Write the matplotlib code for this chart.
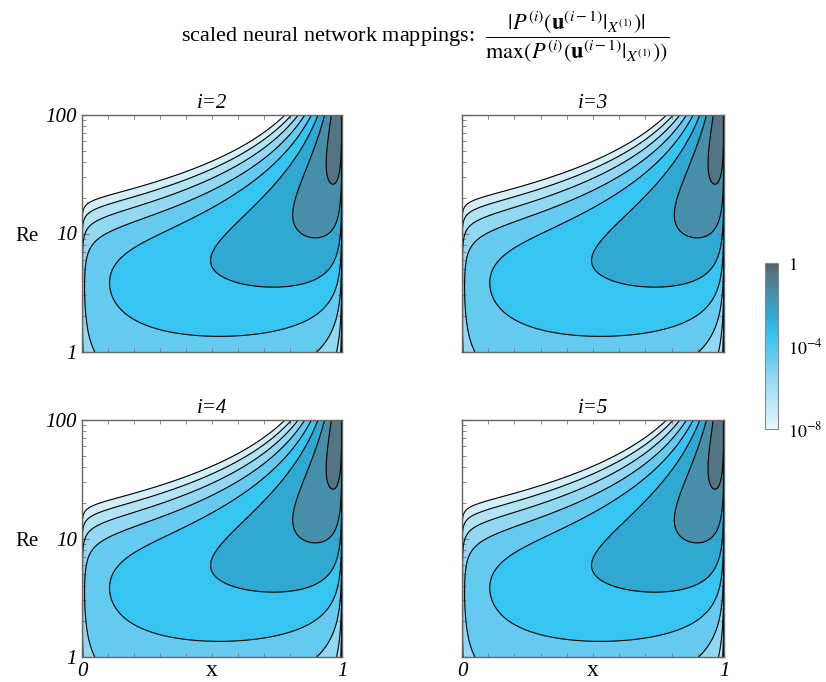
import numpy as np
import matplotlib.pyplot as plt
from matplotlib.colors import LinearSegmentedColormap, Normalize
from matplotlib.cm import ScalarMappable
from matplotlib.ticker import FixedLocator, NullFormatter

lvl_x = [0.80, 0.74, 0.62, 0.47, 0.10, 0.02,
         0.82, 0.02,
         0.837, 0.02,
         0.855, 0.02, 0.02, 0.12, 0.935,
         0.876, 0.095, 0.60, 0.90,
         0.898, 0.467, 0.80, 0.95,
         0.927, 0.827, 0.916,
         0.948, 0.975,
         0.985]
lvl_logre = [2.0, 1.90, 1.71, 1.52, 1.34, 1.27,
             2.0, 1.18,
             2.0, 1.10,
             2.0, 0.90, 0.50, 0.0, 0.0,
             2.0, 0.63, 0.20, 0.20,
             2.0, 0.77, 0.57, 0.57,
             2.0, 1.29, 1.07,
             2.0, 1.55,
             2.0]
lvl_val = [-8, -8, -8, -8, -8, -8,
           -7, -7,
           -6, -6,
           -5, -5, -5, -5, -5,
           -4, -4, -4, -4,
           -3, -3, -3, -3,
           -2, -2, -2,
           -1, -1,
           0]
# leftmost tips of the contours (vertical tangent)
nose_x = [0.095, 0.467, 0.827]
nose_logre = [0.63, 0.77, 1.29]
# lowest points of the contours (horizontal tangent)
flat_x = [0.916, 0.975, 0.60, 0.80]
flat_logre = [1.07, 1.55, 0.20, 0.57]
# the two tips near the right wall are trusted a bit more in the fit
tip_weight = 2.0

panel_titles = ['i=2', 'i=3', 'i=4', 'i=5']
levels = [-8, -7, -6, -5, -4, -3, -2, -1]
LN10 = np.log(10)


def basis(x, l):
    # smooth surface: polynomial in log10(Re) plus boundary-layer profile terms
    re = 10.0 ** np.asarray(l, float)
    x = np.asarray(x, float)
    with np.errstate(divide='ignore'):
        log_u = (-re * (1 - x) + np.log(-np.expm1(-re * x)) - np.log(-np.expm1(-re))) / LN10
        log_1mu = (np.log(-np.expm1(-re * (1 - x))) - np.log(-np.expm1(-re))) / LN10
    l = np.asarray(l, float) + 0 * x
    return [np.ones_like(l), l, l**2, l**3, log_u, log_1mu, l * log_1mu]


def fit_field():
    h = 1e-4
    rows, rhs = [], []

    def add(row, val, w=1.0):
        rows.append([w * float(c) for c in row])
        rhs.append(w * val)

    tips = list(zip(flat_x[:2], flat_logre[:2]))
    for x, l, v in zip(lvl_x, lvl_logre, lvl_val):
        add(basis(x, l), v, tip_weight if (x, l) in tips else 1.0)
    for x, l in zip(nose_x, nose_logre):
        add([(a - b) / (2 * h) for a, b in zip(basis(x, l + h), basis(x, l - h))], 0)
    for k, (x, l) in enumerate(zip(flat_x, flat_logre)):
        add([(a - b) / (2 * h) for a, b in zip(basis(x + h, l), basis(x - h, l))], 0,
            tip_weight if k < 2 else 1.0)
    coef, *_ = np.linalg.lstsq(np.array(rows), np.array(rhs), rcond=None)
    return coef


coef = fit_field()
xg = np.linspace(0, 1, 521)
lg = np.linspace(0, 2, 401)
X, L = np.meshgrid(xg, lg)
RE = 10 ** L
with np.errstate(invalid='ignore'):
    V = sum(c * b for c, b in zip(coef, basis(X, L)))
V[~np.isfinite(V)] = -30
V -= V.max()

cmap = LinearSegmentedColormap.from_list('blues', [
    (0.0, '#f0f9fd'), (0.0625, '#d5eff9'), (0.1875, '#b3e4f6'),
    (0.3125, '#93d8f2'), (0.4375, '#65caf0'), (0.5625, '#36c5f2'),
    (0.6875, '#2eaad2'), (0.8125, '#4790a9'), (0.9375, '#537585'),
    (1.0, '#555e66')])
norm = Normalize(-8, 0)

plt.rcParams['font.family'] = 'serif'
plt.rcParams['font.serif'] = ['Liberation Serif', 'DejaVu Serif']
plt.rcParams['mathtext.fontset'] = 'stix'

fig = plt.figure(figsize=(8.26, 6.82), dpi=100)
W, H = 826, 682
boxes = [(82, 115, 260, 237), (462, 115, 262, 237),
         (82, 420, 260, 237), (462, 420, 262, 237)]

for n, (px, py, pw, ph) in enumerate(boxes):
    ax = fig.add_axes([px / W, 1 - (py + ph) / H, pw / W, ph / H])
    ax.contourf(X, RE, V, levels=levels + [0.01], cmap=cmap, norm=norm)
    ax.contour(X, RE, V, levels=levels, colors='k', linewidths=0.8,
               linestyles='solid')
    ax.set_yscale('log')
    ax.set_xlim(0, 1)
    ax.set_ylim(1, 100)
    ax.set_title(panel_titles[n], fontsize=15, style='italic', pad=5)
    ax.xaxis.set_major_locator(FixedLocator([0, 1]))
    ax.xaxis.set_minor_locator(FixedLocator(np.arange(1, 10) / 10))
    ax.yaxis.set_major_locator(FixedLocator([1, 10, 100]))
    ax.yaxis.set_minor_locator(FixedLocator([k * 10**e for e in (0, 1) for k in range(2, 10)]))
    ax.yaxis.set_minor_formatter(NullFormatter())
    ax.tick_params(which='both', direction='in', top=True, right=True,
                   color='#777777', labelsize=15)
    ax.tick_params(which='major', length=5, width=0.8)
    ax.tick_params(which='minor', length=3, width=0.6)
    ax.set_xticklabels(['0', '1'])
    ax.set_yticklabels(['1', '10', '100'])
    for lab in ax.get_xticklabels() + ax.get_yticklabels():
        lab.set_style('italic')
    for s in ax.spines.values():
        s.set_color('#666666')
        s.set_linewidth(1.0)
    if n % 2 == 1:
        ax.set_yticklabels([])
    else:
        fig.text(27 / W, 1 - (py + ph / 2 + 3) / H, 'Re', fontsize=15,
                 ha='center', va='center')
    if n < 2:
        ax.set_xticklabels([])
    else:
        fig.text((px + pw / 2) / W, 1 - 670 / H, 'x', fontsize=17,
                 ha='center', va='center')

cax = fig.add_axes([765 / W, 1 - 429 / H, 13 / W, 166 / H])
cb = fig.colorbar(ScalarMappable(norm=norm, cmap=cmap), cax=cax)
cb.set_ticks([-8, -4, 0])
cb.set_ticklabels([r'$\mathit{10^{-8}}$', r'$\mathit{10^{-4}}$', r'$\mathit{1}$'])
cb.ax.tick_params(length=0, labelsize=13, pad=7)
cb.outline.set_edgecolor('#888888')

fig.text(0.5145, 0.945,
         r'scaled neural network mappings:  '
         r'$\dfrac{|P^{(i)}(\mathbf{u}^{(i-1)}|_{X^{(1)}})|}'
         r'{\max(P^{(i)}(\mathbf{u}^{(i-1)}|_{X^{(1)}}))}$',
         ha='center', va='center', fontsize=16)

fig.savefig('out.png', dpi=100)
